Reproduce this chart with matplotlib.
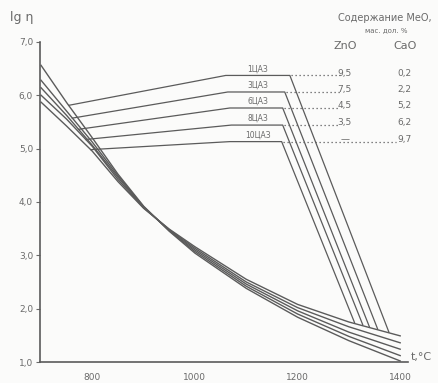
import matplotlib.pyplot as plt

# температура, °C
temps = [700, 750, 800, 850, 900, 950, 1000, 1100, 1200, 1300, 1400]

# lg η для стекол
lg_1 = [6.56, 5.86, 5.20, 4.52, 3.92, 3.45, 3.04, 2.38, 1.84, 1.40, 1.02]
lg_3 = [6.28, 5.70, 5.12, 4.49, 3.91, 3.46, 3.07, 2.42, 1.90, 1.48, 1.12]
lg_6 = [6.14, 5.62, 5.06, 4.46, 3.90, 3.47, 3.10, 2.46, 1.96, 1.56, 1.24]
lg_8 = [6.00, 5.55, 5.04, 4.42, 3.89, 3.48, 3.13, 2.50, 2.02, 1.66, 1.36]
lg_10 = [5.87, 5.42, 4.95, 4.38, 3.88, 3.49, 3.16, 2.55, 2.08, 1.75, 1.49]
curves = [lg_1, lg_3, lg_6, lg_8, lg_10]

# выноски с подписями
names = ["1ЦАЗ", "3ЦАЗ", "6ЦАЗ", "8ЦАЗ", "10ЦАЗ"]
start_t = [754, 761, 773, 787, 797]
start_lg = [5.81, 5.57, 5.36, 5.17, 4.98]
bend_t = [1060, 1064, 1068, 1071, 1068]
label_lg = [6.37, 6.06, 5.76, 5.44, 5.13]
corner_t = [1185, 1175, 1171, 1171, 1169]
end_t = [1378, 1356, 1340, 1327, 1311]
end_lg = [1.56, 1.62, 1.66, 1.70, 1.74]

# содержание MeO, мас. доли %
zno = ["9,5", "7,5", "4,5", "3,5", "—"]
cao = ["0,2", "2,2", "5,2", "6,2", "9,7"]

ink = "#5b5b5b"
txt = "#6a6a6a"

fig = plt.figure(figsize=(4.39, 3.83), dpi=100)
fig.patch.set_facecolor("#fbfbfa")
ax = fig.add_axes([0.0911, 0.0548, 0.838, 0.836])
ax.set_facecolor("#fbfbfa")

for c in curves:
    ax.plot(temps, c, color=ink, lw=1.0)

for i in range(5):
    ax.plot([start_t[i], bend_t[i], corner_t[i], end_t[i]],
            [start_lg[i], label_lg[i], label_lg[i], end_lg[i]],
            color=ink, lw=0.9)
    ax.text(1122, label_lg[i] + 0.04, names[i], fontsize=5.5, color=txt,
            ha="center", va="bottom")
    # пунктир к таблице
    x_to = 1282 if i < 4 else 1392
    ax.plot([corner_t[i] + 3, x_to], [label_lg[i], label_lg[i]],
            color=ink, lw=0.9, ls=(0, (1, 2.2)))
    ax.text(1292, label_lg[i] - 0.04, zno[i], fontsize=6.5, color=txt,
            ha="center", va="bottom")
    ax.text(1409, label_lg[i] - 0.04, cao[i], fontsize=6.5, color=txt,
            ha="center", va="bottom", clip_on=False)

ax.text(1370, 7.44, "Содержание MeO,", fontsize=7, color=txt,
        ha="center", va="center", clip_on=False)
ax.text(1372, 7.23, "мас. дол. %", fontsize=5, color=txt,
        ha="center", va="center", clip_on=False)
ax.text(1292, 6.92, "ZnO", fontsize=8, color=txt, ha="center", va="center")
ax.text(1409, 6.92, "CaO", fontsize=8, color=txt, ha="center", va="center",
        clip_on=False)

ax.set_xlim(698, 1415)
ax.set_ylim(1.0, 7.0)
for s in ["top", "right"]:
    ax.spines[s].set_visible(False)
for s in ["left", "bottom"]:
    ax.spines[s].set_color(ink)
    ax.spines[s].set_linewidth(1.2)

ax.set_xticks([800, 1000, 1200, 1400])
ax.set_xticklabels(["800", "1000", "1200", "1400"])
ax.set_yticks([1, 2, 3, 4, 5, 6, 7])
ax.set_yticklabels(["1,0", "2,0", "3,0", "4,0", "5,0", "6,0", "7,0"])
ax.tick_params(axis="x", length=0, pad=8, labelsize=6.5, colors=txt)
ax.tick_params(axis="y", length=3, width=0.8, pad=2, labelsize=6.5,
               colors=txt)

fig.text(0.05, 0.955, "lg η", fontsize=9, color=txt, ha="center", va="center")
fig.text(0.96, 0.068, "t,°C", fontsize=8, color=txt, ha="center", va="center")

fig.savefig("out.png", dpi=100)
